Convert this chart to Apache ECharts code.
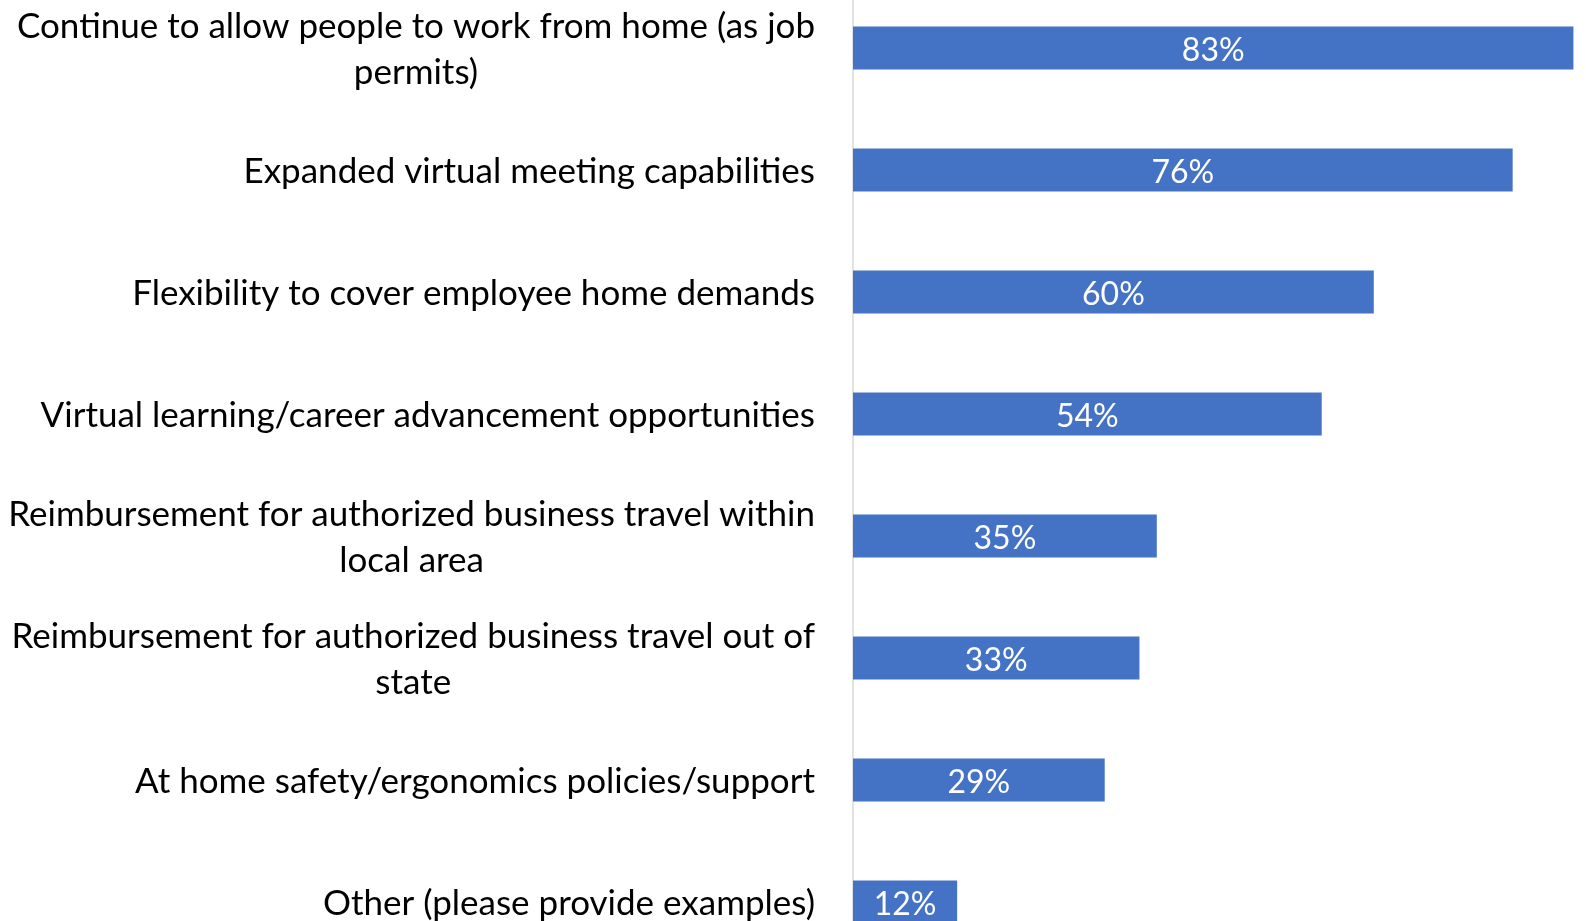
<!DOCTYPE html>
<html>
<head>
<meta charset="utf-8">
<script src="https://cdn.jsdelivr.net/npm/echarts@6/dist/echarts.min.js"></script>
<style>
  html, body { margin: 0; padding: 0; background: #ffffff; overflow: hidden; }
  #chart { width: 1586px; height: 921px; }
</style>
</head>
<body>
<div id="chart"></div>
<script>
// Survey categories (top to bottom); long ones split into two centred lines
const categories = [
  'Continue to allow people to work from home (as job\npermits)',
  'Expanded virtual meeting capabilities',
  'Flexibility to cover employee home demands',
  'Virtual learning/career advancement opportunities',
  'Reimbursement for authorized business travel within\nlocal area',
  'Reimbursement for authorized business travel out of\nstate',
  'At home safety/ergonomics policies/support',
  'Other (please provide examples)'
];

// Share of respondents, in percent
const shares = [83, 76, 60, 54, 35, 33, 29, 12];

const chart = echarts.init(document.getElementById('chart'), null, { renderer: 'canvas' });

const FONT = 'Lato, "Noto Sans", sans-serif';

chart.setOption({
  animation: false,
  backgroundColor: '#ffffff',
  grid: {
    left: 853,
    right: 0,
    top: -13,
    bottom: -42,
    outerBoundsMode: 'none',
    containLabel: false
  },
  xAxis: {
    type: 'value',
    min: 0,
    max: 84.45,
    show: false
  },
  yAxis: {
    type: 'category',
    data: categories,
    inverse: true,
    axisLine: { show: true, lineStyle: { color: '#d9d9d9', width: 1.5 } },
    axisTick: { show: false },
    splitLine: { show: false },
    axisLabel: {
      margin: 38,
      color: '#000000',
      fontFamily: FONT,
      fontSize: 35,
      lineHeight: 46,
      formatter: function (value) {
        return value.split('\n').map(function (line) { return '{c|' + line + '}'; }).join('\n');
      },
      rich: {
        c: {
          align: 'center',
          color: '#000000',
          fontFamily: FONT,
          fontSize: 35,
          lineHeight: 46,
          padding: [4, 0, 0, 0]
        }
      }
    }
  },
  series: [{
    type: 'bar',
    data: shares,
    barWidth: 43,
    itemStyle: { color: '#4472C4' },
    label: {
      show: true,
      position: 'inside',
      offset: [0, 3],
      color: '#ffffff',
      fontFamily: FONT,
      fontSize: 32,
      formatter: '{c}%'
    }
  }]
});
</script>
</body>
</html>
